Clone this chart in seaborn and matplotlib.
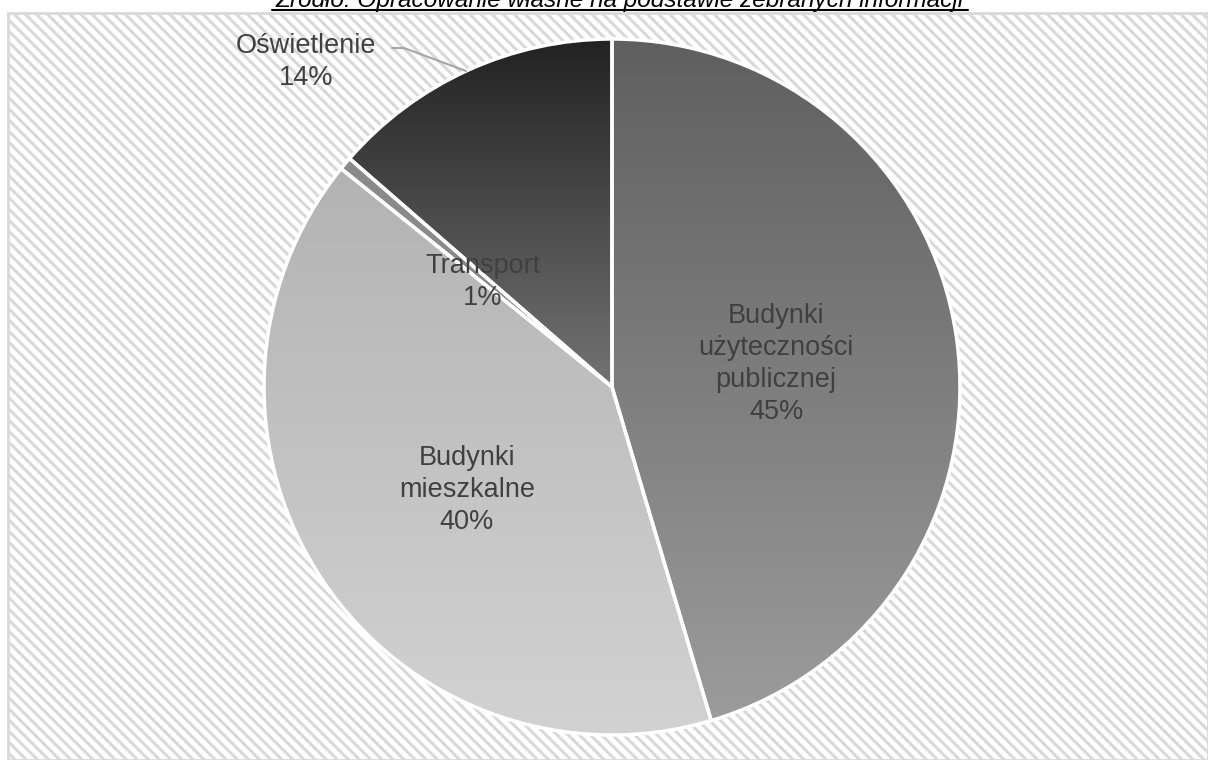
import numpy as np
import matplotlib
matplotlib.use("Agg")
import matplotlib.pyplot as plt
from matplotlib.patches import Rectangle
from matplotlib.colors import LinearSegmentedColormap
import seaborn as sns

sns.set_theme(style="white")
plt.rcParams['font.family'] = ['Liberation Sans', 'DejaVu Sans']
plt.rcParams['hatch.linewidth'] = 2.2
plt.rcParams['hatch.color'] = '#ededed'

categories = ["Budynki\nużyteczności\npublicznej", "Budynki\nmieszkalne", "Transport", "Oświetlenie"]
values = [45.4, 40.4, 0.6, 13.6]
pct_labels = ["45%", "40%", "1%", "14%"]
grad_top = ["#5f5f5f", "#b3b3b3", "#8a8a8a", "#222222"]
grad_bottom = ["#9c9c9c", "#d2d2d2", "#8a8a8a", "#737373"]
title = "Źródło: Opracowanie własne na podstawie zebranych informacji"

W, H = 1208, 760
fig = plt.figure(figsize=(W / 100, H / 100), dpi=100)
fig.patch.set_facecolor("white")

# hatched background with border
bg = Rectangle((8 / W, 0), (W - 8) / W, (H - 13) / H, transform=fig.transFigure,
               facecolor="white", edgecolor="#d9d9d9", hatch="\\\\\\", linewidth=2, zorder=-5)
fig.patches.append(bg)

cx, cy, r = 612, 387, 348
ax = fig.add_axes([0, 0, 1, 1], zorder=1)
ax.set_facecolor("none")
ax.patch.set_alpha(0)
ax.axis("off")

wedges, _ = ax.pie(values, startangle=90, counterclock=False, radius=1,
                   wedgeprops=dict(facecolor="none", edgecolor="none"))
ax.set_xlim(-cx / r, (W - cx) / r)
ax.set_ylim(-(H - cy) / r, cy / r)
ax.set_aspect("auto")

for w, top, bot in zip(wedges, grad_top, grad_bottom):
    ext = w.get_path().get_extents()
    x0, y0, x1, y1 = ext.x0, ext.y0, ext.x1, ext.y1
    cmap = LinearSegmentedColormap.from_list("g", [bot, top])
    grad = np.linspace(0, 1, 256).reshape(-1, 1)
    im = ax.imshow(grad, cmap=cmap, extent=[x0, x1, y0, y1], origin="lower",
                   aspect="auto", zorder=1, interpolation="bilinear")
    im.set_clip_path(w)

wedges2, _ = ax.pie(values, startangle=90, counterclock=False, radius=1,
                    wedgeprops=dict(facecolor="none", edgecolor="white", linewidth=2.5))
for w in wedges2:
    w.set_zorder(2)
ax.set_xlim(-cx / r, (W - cx) / r)
ax.set_ylim(-(H - cy) / r, cy / r)
ax.set_aspect("auto")
ax.axis("off")

def px(x, y):
    return ((x - cx) / r, (cy - y) / r)

label_pos = [(776, 364), (467, 490), (483, 282), (306, 62)]
for cat, pct, (lx, ly) in zip(categories, pct_labels, label_pos):
    ax.text(*px(lx, ly), cat + "\n" + pct, ha="center", va="center", fontsize=19.5,
            color="#404040", linespacing=1.3, zorder=5)

# leader line for Oświetlenie
pts = [px(392, 48), px(404, 48), px(466, 71)]
ax.plot([p[0] for p in pts], [p[1] for p in pts], color="#a6a6a6", lw=1.5, zorder=4)

# cut-off source line at top
fig.text(620 / W, 1 - 7 / H, title, ha="center", va="baseline", fontsize=17.6,
         style="italic", color="black")
fig.add_artist(plt.Line2D([272 / W, 968 / W], [1 - 10 / H, 1 - 10 / H],
                          transform=fig.transFigure, color="black", lw=1.5))

fig.savefig("out.png", dpi=100)
